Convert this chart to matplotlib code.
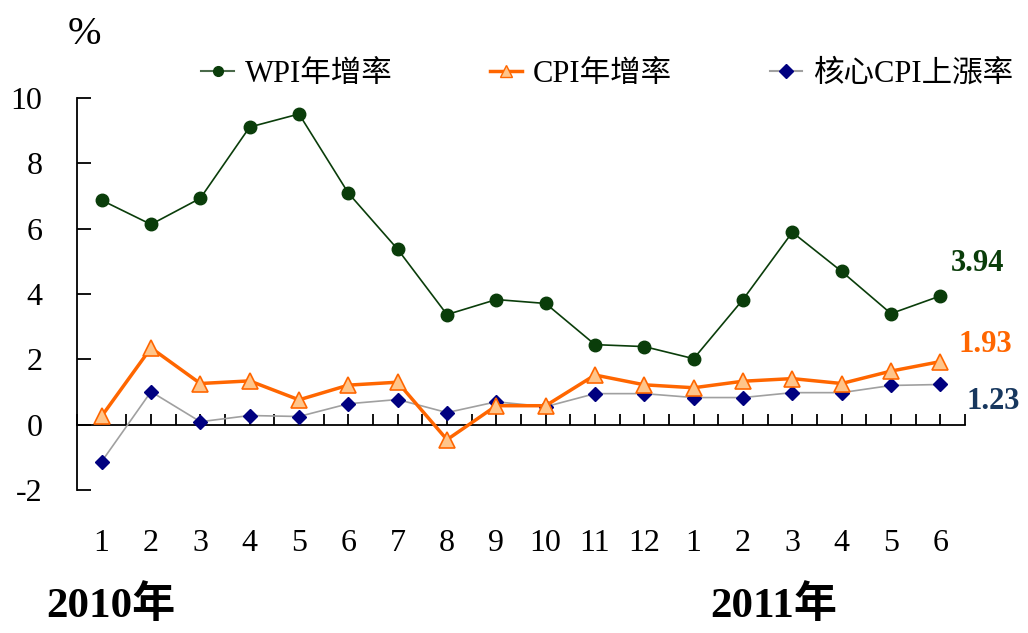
import matplotlib
matplotlib.use("Agg")
from matplotlib import pyplot as plt
from matplotlib.lines import Line2D
import matplotlib.transforms as mtransforms

plt.rcParams['font.family'] = ['Liberation Serif', 'Noto Sans CJK TC']

months = ['1', '2', '3', '4', '5', '6', '7', '8', '9', '10', '11', '12',
          '1', '2', '3', '4', '5', '6']
wpi = [6.87, 6.13, 6.93, 9.11, 9.51, 7.09, 5.37, 3.37, 3.83, 3.71, 2.45, 2.39,
       2.02, 3.83, 5.89, 4.69, 3.40, 3.94]
cpi = [0.26, 2.35, 1.26, 1.34, 0.76, 1.21, 1.30, -0.46, 0.58, 0.58, 1.52, 1.22,
       1.13, 1.33, 1.41, 1.26, 1.64, 1.93]
core = [-1.13, 1.01, 0.09, 0.28, 0.25, 0.64, 0.77, 0.37, 0.70, 0.55, 0.95, 0.95,
        0.83, 0.83, 0.98, 0.98, 1.20, 1.23]
yticks = [-2, 0, 2, 4, 6, 8, 10]

c_wpi = '#0A3D0A'
c_cpi = '#FF6600'
c_cpi_face = '#FFC58A'
c_core_line = '#A0A0A0'
c_core = '#000080'

fig = plt.figure(figsize=(10.28, 6.33), dpi=100)
ax = fig.add_axes([0.0749, 0.2259, 0.8638, 0.6193])

x = list(range(len(months)))
ax.plot(x, wpi, color=c_wpi, lw=1.2, marker='o', ms=9, mfc=c_wpi, mec=c_wpi, zorder=3)
ax.plot(x, core, color=c_core_line, lw=1.2, marker='D', ms=7, mfc=c_core, mec=c_core, zorder=4)
ax.plot(x, cpi, color=c_cpi, lw=2.5, marker='^', ms=11, mfc=c_cpi_face, mec=c_cpi, mew=1.2, zorder=5)

ax.set_xlim(-0.5, len(months) - 0.5)
ax.set_ylim(-2, 10)
ax.set_yticks(yticks)
ax.set_yticklabels([str(v) for v in yticks], fontsize=23)
ax.tick_params(axis='y', direction='in', length=10, width=1.3, pad=25)

for s in ['top', 'right']:
    ax.spines[s].set_visible(False)
ax.spines['left'].set_linewidth(1.3)
ax.spines['bottom'].set_position(('data', 0))
ax.spines['bottom'].set_linewidth(1.3)
ax.set_xticks([i * 0.5 - 0.5 for i in range(2 * len(months) + 1)])
ax.set_xticklabels([])
ax.tick_params(axis='x', direction='in', length=8, width=1.3)

trans = mtransforms.blended_transform_factory(ax.transData, ax.transAxes)
for i, m in enumerate(months):
    ax.text(i, -0.137, m, transform=trans, ha='center', va='center', fontsize=23)

fig.text(0.045, 0.043, '2010年', fontsize=31, fontweight='bold', ha='left', va='center')
fig.text(0.691, 0.043, '2011年', fontsize=31, fontweight='bold', ha='left', va='center')
fig.text(0.082, 0.945, '%', fontsize=29, ha='center', va='center')

# end-of-line value labels
fig.text(0.925, 0.583, f'{wpi[-1]:.2f}', color=c_wpi,
         fontsize=22, fontweight='bold', ha='left', va='center')
fig.text(0.932, 0.455, f'{cpi[-1]:.2f}', color=c_cpi,
         fontsize=22, fontweight='bold', ha='left', va='center')
fig.text(0.940, 0.365, f'{core[-1]:.2f}', color='#17375E',
         fontsize=22, fontweight='bold', ha='left', va='center')

handles = [
    Line2D([], [], color='#4A6A4A', lw=1.5, marker='o', ms=7, mfc=c_wpi, mec=c_wpi),
    Line2D([], [], color=c_cpi, lw=2.5, marker='^', ms=9, mfc=c_cpi_face, mec=c_cpi),
    Line2D([], [], color=c_core_line, lw=1.5, marker='D', ms=7, mfc=c_core, mec=c_core),
]
labels = ['WPI年增率', 'CPI年增率', '核心CPI上漲率']
fig.legend(handles, labels, loc='center left', bbox_to_anchor=(0.196, 0.883), ncol=3,
           frameon=False, fontsize=22, handlelength=1.05, handletextpad=0.36,
           columnspacing=3.2, borderpad=0, borderaxespad=0)

fig.savefig('out.png', dpi=100)
